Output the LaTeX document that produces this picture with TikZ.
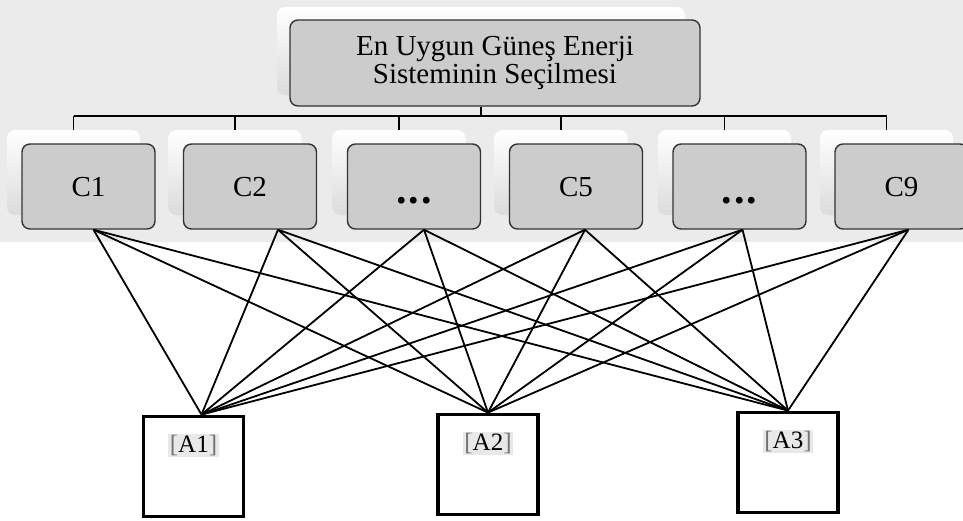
\documentclass[tikz,border=0pt]{standalone}
\usepackage{fontspec}
\setmainfont{Liberation Serif}
\newcommand{\crdots}{\raisebox{-7pt}{\fontsize{42}{42}\selectfont\textbf{.\kern2pt.\kern2pt.}}}
\begin{document}
\begin{tikzpicture}[x=1pt,y=-1pt,
  back/.style={rounded corners=8pt,top color=white,bottom color=black!14,minimum width=133pt,minimum height=85pt},
  crit/.style={draw=black!80,line width=1.4pt,rounded corners=8pt,fill=black!20,minimum width=133pt,minimum height=85pt,font=\fontsize{29}{28}\selectfont},
  alt/.style={draw,line width=3.8pt,fill=white,minimum width=100pt,minimum height=100pt},
  tag/.style={fill=black!9,inner sep=1.5pt,font=\fontsize{25}{25}\selectfont},
  link/.style={line width=1.8pt}]
\fill[black!8] (0,0) rectangle (963,242);
\useasboundingbox (0,0) rectangle (963,520);
% goal
\node[back,minimum width=408pt,minimum height=88pt] (tops) at (481,51) {};
\node[crit,minimum width=410pt,minimum height=86pt,align=center] (goal) at (495,63)
  {En Uygun Güneş Enerji\\Sisteminin Seçilmesi};
% criteria
\foreach \n/\x/\t in {c1/88.5/C1,c2/250/C2,c3/414/\crdots,c5/576/C5,c6/739.5/\crdots,c9/901.5/C9}{
  \node[back] (\n s) at (\x-15,172.5) {};
  \node[crit,text height=19pt,text depth=0pt] (\n) at (\x,186.5) {\t};
}
\coordinate (bus) at (0,116);
\draw[link] (goal.south -| tops.south) -- (tops.south |- bus);
\draw[link] (c1s.north |- bus) -- (c9s.north |- bus);
\foreach \n in {c1,c2,c3,c5,c6,c9}
  \draw[link] (\n s.north |- bus) -- (\n s.north);
% alternatives
\node[alt] (a1) at (193.5,466.5) {};
\node[alt] (a2) at (488,464.5) {};
\node[alt] (a3) at (788,462.5) {};
\foreach \n in {1,2,3}
  \node[tag] (a\n t) at ([yshift=-31]a\n.north) {\textcolor{black!55}{[}A\n\textcolor{black!55}{]}};
% links
\foreach \n/\d in {c1/5,c2/28,c3/10,c5/9,c6/3,c9/7}
  \foreach \a/\e in {a1/8,a2/0,a3/0}
    \draw[link] ([xshift=\d]\n.south) -- ([xshift=\e]\a.north);
\end{tikzpicture}
\end{document}
